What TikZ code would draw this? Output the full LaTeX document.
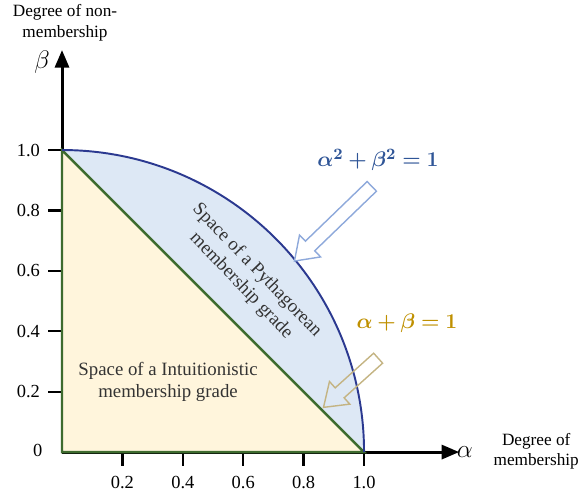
\documentclass[tikz,border=0pt]{standalone}
\usepackage{amsmath,bm}
\usepackage{fontspec}
\setmainfont{Liberation Serif}
\usetikzlibrary{arrows.meta,shapes.arrows}

\definecolor{pythfill}{HTML}{DDE8F5}
\definecolor{pythedge}{HTML}{2B3990}
\definecolor{intfill}{HTML}{FFF5DC}
\definecolor{intedge}{HTML}{3E6B2E}
\definecolor{pythtext}{HTML}{2F5597}
\definecolor{inttext}{HTML}{BF9000}
\definecolor{pytharrow}{HTML}{8EA9DB}
\definecolor{intarrow}{HTML}{C4B483}

\tikzset{
    axis/.style={line width=1.7pt,-{Triangle[length=10pt,width=8pt]}},
    tickmark/.style={line width=1.3pt},
    ticklabel/.style={font=\fontsize{10.5}{12}\selectfont,inner sep=1pt},
    axislabel/.style={font=\fontsize{9.8}{11.5}\selectfont,align=center,inner sep=1pt},
    spacelabel/.style={font=\fontsize{10.7}{12.5}\selectfont,align=center,text=black!80},
    formula/.style={font=\fontsize{13}{15}\selectfont},
    hollowarrow/.style={single arrow,draw,line width=0.8pt,inner sep=0.12cm,
        single arrow head extend=0.17cm,single arrow tip angle=70,anchor=center}
}

\begin{document}
\begin{tikzpicture}[x=6.04cm,y=6.04cm]
    \useasboundingbox (-0.2053,-0.1358) rectangle (1.715,1.4967);

    \fill[pythfill](0,0)--(1,0)arc[start angle=0,end angle=90,radius=1]--cycle; %円の四分の一

    %軸
    \coordinate (O) at (0,0);
    \coordinate (xend) at (1.315,0);
    \coordinate (yend) at (0,1.331);
    \draw[axis](O)--(xend);
    \draw[axis](O)--(yend);

    %目盛り
    \draw[tickmark](0.2,0)--(0.2,-0.046)node[ticklabel,below=4pt](x2){0.2};
    \draw[tickmark](0.4,0)--(0.4,-0.046)node[ticklabel,below=4pt](x4){0.4};
    \draw[tickmark](0.6,0)--(0.6,-0.046)node[ticklabel,below=4pt](x6){0.6};
    \draw[tickmark](0.8,0)--(0.8,-0.046)node[ticklabel,below=4pt](x8){0.8};
    \draw[tickmark](1.0,0)--(1.0,-0.046)node[ticklabel,below=4pt](x10){1.0};
    \draw[tickmark](0,0.2)--(-0.046,0.2)node[ticklabel,left=3pt](y2){0.2};
    \draw[tickmark](0,0.4)--(-0.046,0.4)node[ticklabel,left=3pt](y4){0.4};
    \draw[tickmark](0,0.6)--(-0.046,0.6)node[ticklabel,left=3pt](y6){0.6};
    \draw[tickmark](0,0.8)--(-0.046,0.8)node[ticklabel,left=3pt](y8){0.8};
    \draw[tickmark](0,1.0)--(-0.046,1.0)node[ticklabel,left=3pt](y10){1.0};
    \node[ticklabel] (zero) at (-0.08,0.005) {0};

    \filldraw[fill=intfill,draw=intedge,line width=1.4pt](0,0)--(1,0)--(0,1)--cycle; %三角形
    \draw[pythedge,line width=1.1pt](1,0)arc[start angle=0,end angle=90,radius=1];

    %軸の文字
    \node[font=\fontsize{15}{17}\selectfont] (beta) at (-0.066,1.291) {$\beta$};
    \node[font=\fontsize{15}{17}\selectfont] (alpha) at (1.334,0) {$\alpha$};
    \node[axislabel] (ylab) at (0.01,1.421) {Degree of non-\\membership};
    \node[axislabel] (xlab) at (1.57,0.003) {Degree of\\membership};

    %領域の文字
    \node[spacelabel] (intspace) at (0.351,0.232) {Space of a Intuitionistic\\membership grade};
    \node[spacelabel,rotate=-46] (pythspace) at (0.619,0.576) {Space of a Pythagorean\\membership grade};

    %式と矢印
    \node[formula,text=pythtext] (pythlab) at (1.046,0.967) {$\bm{\alpha^2+\beta^2=1}$};
    \node[formula,text=inttext] (intlab) at (1.142,0.427) {$\bm{\alpha+\beta=1}$};
    \node[hollowarrow,draw=pytharrow,fill=white,minimum height=2.15cm,rotate=224] (pytharr) at (0.909,0.767) {};
    \node[hollowarrow,draw=intarrow,minimum height=1.47cm,rotate=222] (intarr) at (0.968,0.240) {};
\end{tikzpicture}
\end{document}
